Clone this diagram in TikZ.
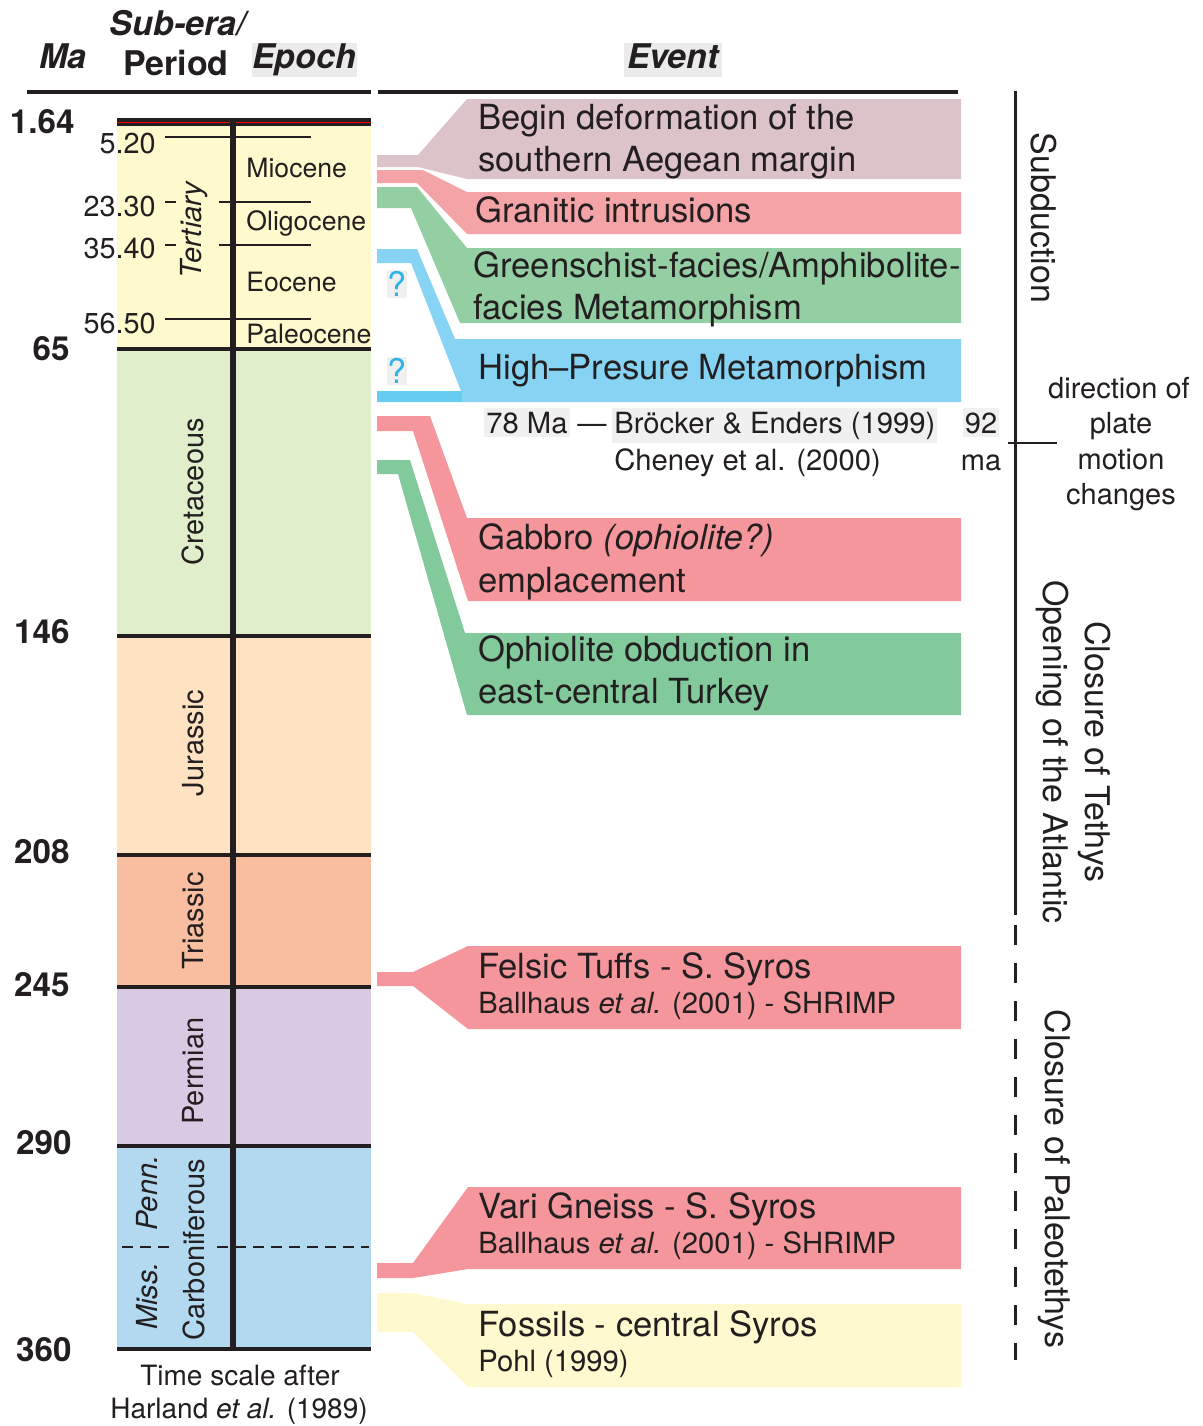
\documentclass[tikz,border=0pt]{standalone}
\usepackage{fontspec}
\setmainfont{TeX Gyre Heros}
\definecolor{ink}{HTML}{231F20}
\definecolor{tert}{HTML}{FFFACD}
\definecolor{cret}{HTML}{E0EECB}
\definecolor{jura}{HTML}{FEE2C2}
\definecolor{tria}{HTML}{F9BE9F}
\definecolor{perm}{HTML}{D9CAE3}
\definecolor{carb}{HTML}{B3D9F0}
\definecolor{mauve}{HTML}{DCC3CA}
\definecolor{redA}{HTML}{F4A3A6}
\definecolor{redB}{HTML}{F4969B}
\definecolor{grnA}{HTML}{94CFA4}
\definecolor{grnB}{HTML}{82CA9C}
\definecolor{hpblue}{HTML}{87D3F3}
\definecolor{hpbar}{HTML}{66CCF2}
\definecolor{fossil}{HTML}{FFF9CF}
\definecolor{qblue}{HTML}{2AB4E8}
\definecolor{hdrbg}{HTML}{EBEBEB}
\definecolor{txtbg}{HTML}{F0F0F0}
\begin{document}
\begin{tikzpicture}[x=0.5pt,y=-0.5pt,
  evt/.style={anchor=base west, inner sep=0pt, text=ink, font=\fontsize{17.3}{21}\selectfont},
  refr/.style={anchor=base west, inner sep=0pt, text=ink, font=\fontsize{14.6}{18}\selectfont},
  per/.style={rotate=90, inner sep=0pt, text=ink, font=\fontsize{14.5}{18}\selectfont},
  epo/.style={anchor=base west, inner sep=0pt, text=ink, font=\fontsize{13.3}{16}\selectfont},
  bigma/.style={anchor=base east, inner sep=0pt, text=ink, font=\fontsize{16.6}{19}\selectfont\bfseries},
  smallma/.style={anchor=base east, inner sep=0pt, text=ink, font=\fontsize{14.4}{16}\selectfont},
  side/.style={rotate=-90, inner sep=0pt, text=ink, font=\fontsize{17}{20}\selectfont},
  note/.style={anchor=base, inner sep=0pt, text=ink, font=\fontsize{14.5}{18}\selectfont},
  hdr/.style={anchor=base, inner sep=0pt, text=ink, font=\fontsize{17}{20}\selectfont\bfseries},
  qm/.style={inner sep=0.5pt, fill=txtbg, text=qblue, font=\fontsize{17}{20}\selectfont},
  bound/.style={ink, line width=1.75pt},
  tick/.style={ink, line width=0.6pt}
]
\useasboundingbox (0,0) rectangle (1203,1426);

% ---------- header ----------
\fill[hdrbg] (252,43) rectangle (357,77);
\fill[hdrbg] (624,43) rectangle (722,77);
\node[hdr, font=\fontsize{17}{20}\selectfont\bfseries\itshape] (hMa) at (63,68) {Ma};
\node[hdr, font=\fontsize{17}{20}\selectfont\bfseries\itshape] (hSub) at (178,35) {Sub-era/};
\node[hdr] (hPer) at (176,75) {Period};
\node[hdr, font=\fontsize{17}{20}\selectfont\bfseries\itshape] (hEpo) at (304,68) {Epoch};
\node[hdr, font=\fontsize{17}{20}\selectfont\bfseries\itshape] (hEvt) at (673,68) {Event};
\draw[ink, line width=2pt] (27,92) -- (371,92);
\draw[ink, line width=2pt] (378,92) -- (958,92);

% ---------- time column ----------
\fill[tert] (117,119) rectangle (371,349);
\fill[cret] (117,349) rectangle (371,636);
\fill[jura] (117,636) rectangle (371,855);
\fill[tria] (117,855) rectangle (371,987);
\fill[perm] (117,987) rectangle (371,1146);
\fill[carb] (117,1146) rectangle (371,1349);

\draw[tick] (165,137) -- (311,137);
\draw[tick] (165,202) -- (176,202);
\draw[tick] (219,202) -- (311,202);
\draw[tick] (165,245) -- (176,245);
\draw[tick] (219,245) -- (311,245);
\draw[tick] (165,319) -- (311,319);
\draw[ink, line width=0.8pt, dash pattern=on 5.5pt off 3.5pt] (122,1247) -- (174,1247);
\draw[ink, line width=0.8pt, dash pattern=on 5.5pt off 3.5pt] (217,1247) -- (369,1247);

\draw[ink, line width=4pt] (117,121.5) -- (371,121.5);
\draw[red, line width=0.6pt] (117,122.5) -- (371,122.5);
\foreach \yy in {349,636,855,987,1146,1349} \draw[bound] (117,\yy) -- (371,\yy);
\draw[ink, line width=2.75pt] (233,119) -- (233,1349);

% ages
\node[bigma] (a164) at (75,133) {1.64};
\node[bigma] (a65) at (70,360) {65};
\node[bigma] (a146) at (70,643) {146};
\node[bigma] (a208) at (70,863) {208};
\node[bigma] (a245) at (70,996) {245};
\node[bigma] (a290) at (72,1154) {290};
\node[bigma] (a360) at (72,1361) {360};
\node[smallma] (s520) at (156,153) {5.20};
\node[smallma] (s2330) at (156,216) {23.30};
\node[smallma] (s3540) at (156,258) {35.40};
\node[smallma] (s5650) at (156,333) {56.50};

% epochs
\node[epo] (eMio) at (246,177) {Miocene};
\node[epo] (eOli) at (246,230) {Oligocene};
\node[epo] (eEoc) at (246,291) {Eocene};
\node[epo] (ePal) at (246,343) {Paleocene};

% periods
\node[per, font=\fontsize{14.5}{18}\selectfont\itshape] (pTer) at (194,230) {Tertiary};
\node[per] (pCre) at (193,492) {Cretaceous};
\node[per] (pJur) at (193,743) {Jurassic};
\node[per] (pTri) at (193,921) {Triassic};
\node[per] (pPer) at (193,1071) {Permian};
\node[per] (pCar) at (194,1250) {Carboniferous};
\node[per, font=\fontsize{14.5}{18}\selectfont\itshape] (pPen) at (147,1193) {Penn.};
\node[per, font=\fontsize{14.5}{18}\selectfont\itshape] (pMis) at (147,1296) {Miss.};

\node[note, font=\fontsize{14}{17}\selectfont] (cap1) at (240,1385) {Time scale after};
\node[note, font=\fontsize{14}{17}\selectfont] (cap2) at (239,1418) {Harland \textit{et al.} (1989)};

% ---------- event bands ----------
\fill[mauve] (377,155) -- (418,155) -- (467,99) -- (961,99) -- (961,179) -- (467,179) -- (418,167) -- (377,167) -- cycle;
\fill[redA] (377,170) -- (423,170) -- (467,192) -- (961,192) -- (961,234) -- (467,234) -- (417,183) -- (377,183) -- cycle;
\fill[grnA] (377,187) -- (417,187) -- (467,248) -- (961,248) -- (961,323) -- (460,323) -- (411,208) -- (377,208) -- cycle;
\fill[hpblue] (377,249) -- (417,249) -- (455,339) -- (961,339) -- (961,402) -- (377,402) -- (377,391) -- (461,391) -- (411,263) -- (377,263) -- cycle;
\fill[hpbar] (377,391) rectangle (462,402);
\fill[redB] (377,416) -- (430,416) -- (467,518) -- (961,518) -- (961,601) -- (468,601) -- (413,431) -- (377,431) -- cycle;
\fill[grnB] (377,460) -- (410,460) -- (465,633) -- (961,633) -- (961,715) -- (467,715) -- (398,474) -- (377,474) -- cycle;
\fill[redB] (377,972) -- (413,972) -- (468,946) -- (961,946) -- (961,1029) -- (468,1029) -- (413,986) -- (377,986) -- cycle;
\fill[redB] (377,1263) -- (413,1263) -- (468,1187) -- (961,1187) -- (961,1269) -- (468,1269) -- (413,1278) -- (377,1278) -- cycle;
\fill[fossil] (377,1293) -- (413,1293) -- (468,1304) -- (961,1304) -- (961,1387) -- (468,1387) -- (413,1332) -- (377,1332) -- cycle;

\node[qm] (q1) at (397,284) {?};
\node[qm] (q2) at (397,371) {?};

% event texts
\node[evt] (t1a) at (478,129) {Begin deformation of the};
\node[evt] (t1b) at (478,171) {southern Aegean margin};
\node[evt] (t2) at (475,222) {Granitic intrusions};
\node[evt] (t3a) at (473,277) {Greenschist-facies/Amphibolite-};
\node[evt] (t3b) at (473,319) {facies Metamorphism};
\node[evt] (t4) at (478,379) {High–Presure Metamorphism};
\node[refr, fill=txtbg, inner xsep=1pt, inner ysep=2pt] (r1) at (484,433) {78 Ma};
\node[refr] (r1d) at (577,433) {—};
\node[refr, fill=txtbg, inner xsep=1pt, inner ysep=2pt] (r2) at (612,433) {Bröcker \& Enders (1999)};
\node[refr] (r3) at (614,470) {Cheney et al. (2000)};
\node[evt] (t5a) at (478,549) {Gabbro \textit{(ophiolite?)}};
\node[evt] (t5b) at (478,592) {emplacement};
\node[evt] (t6a) at (478,661) {Ophiolite obduction in};
\node[evt] (t6b) at (478,703) {east-central Turkey};
\node[evt] (t7a) at (478,978) {Felsic Tuffs - S. Syros};
\node[refr] (t7b) at (478,1013) {Ballhaus \textit{et al.} (2001) - SHRIMP};
\node[evt] (t8a) at (478,1218) {Vari Gneiss - S. Syros};
\node[refr] (t8b) at (478,1253) {Ballhaus \textit{et al.} (2001) - SHRIMP};
\node[evt] (t9a) at (478,1336) {Fossils - central Syros};
\node[refr] (t9b) at (478,1371) {Pohl (1999)};

% ---------- right side ----------
\coordinate (vTop) at (1015,91);
\coordinate (vMid) at (1015,915);
\coordinate (vBot) at (1015,1360);
\coordinate (tkL) at (1008,443);
\coordinate (tkR) at (1057,443);
\draw[ink, line width=1.5pt] (vTop) -- (vMid);
\draw[ink, line width=1.5pt, dash pattern=on 10pt off 9pt] ([yshift=-5pt]vMid) -- (vBot);
\draw[ink, line width=1pt] (tkL) -- (tkR);

\node[note, fill=txtbg, inner xsep=1pt, inner ysep=2pt] (n92) at (981,433) {92};
\node[note] (nma) at (981,470) {ma};
\node[note] (d1) at (1119,398) {direction of};
\node[note] (d2) at (1121,433) {plate};
\node[note] (d3) at (1121,469) {motion};
\node[note] (d4) at (1121,504) {changes};

\node[side] (sSub) at (1044,218) {Subduction};
\node[side] (sTet) at (1094,752) {Closure of Tethys};
\node[side] (sAtl) at (1052,752) {Opening of the Atlantic};
\node[side] (sPal) at (1054,1179) {Closure of Paleotethys};
\end{tikzpicture}
\end{document}
